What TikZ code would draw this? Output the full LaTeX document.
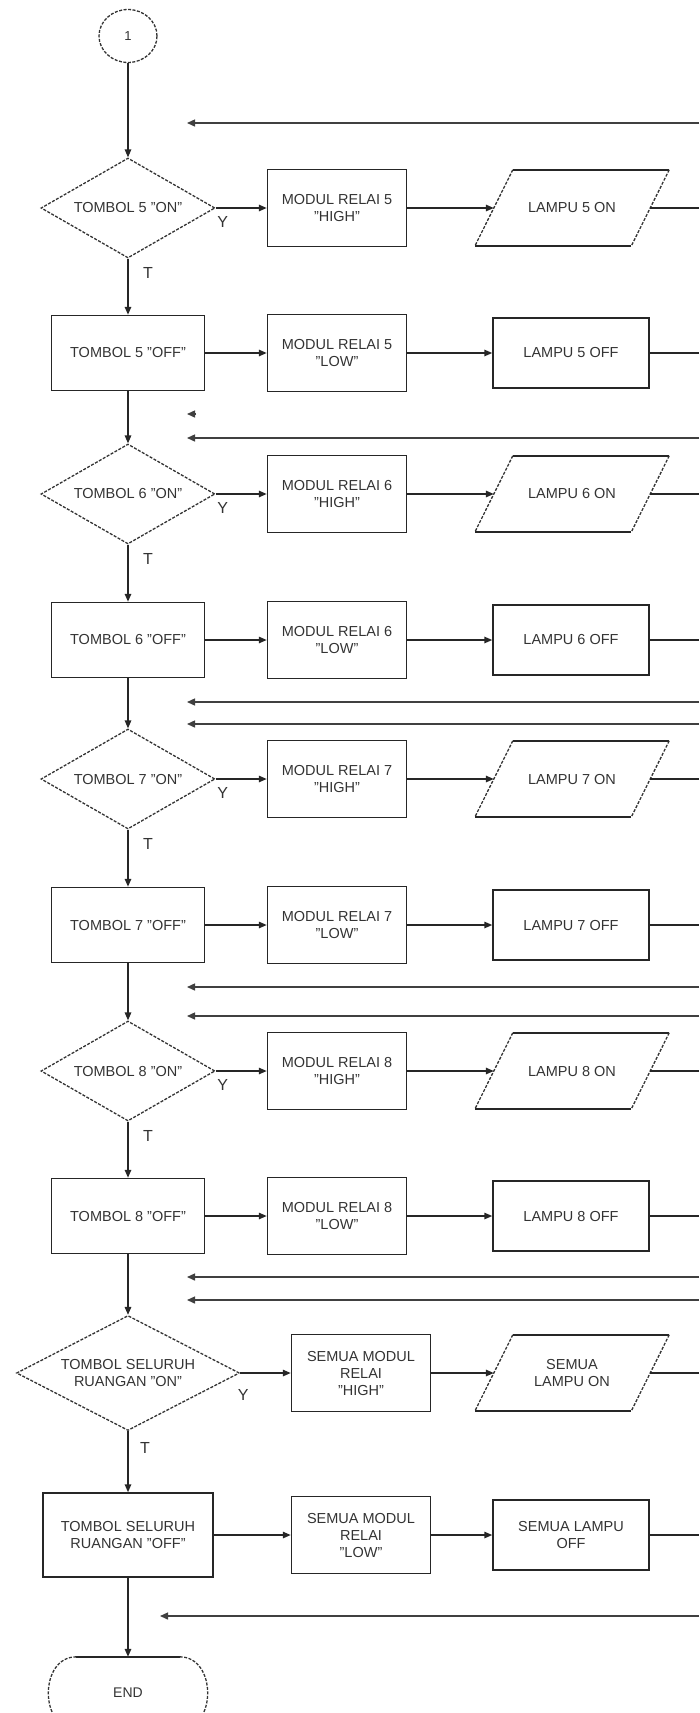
\documentclass[tikz,border=0pt]{standalone}
\usepackage{fontspec}
\setmainfont{Liberation Sans}
\usetikzlibrary{shapes.geometric,arrows.meta,calc}
\newcommand\paraout[1]{%
  \draw[ln] ($(#1.north west)+(19,0)$) -- ($(#1.north east)+(19,0)$);
  \draw[ln] ($(#1.south west)+(-19,0)$) -- ($(#1.south east)+(-19,0)$);
  \draw[diag] ($(#1.north east)+(19,0)$) -- ($(#1.south east)+(-19,0)$);
  \draw[diag] ($(#1.north west)+(19,0)$) -- ($(#1.south west)+(-19,0)$);}
\begin{document}
\begin{tikzpicture}[x=1pt,y=-1pt,
  every node/.style={font=\fontsize{14.5}{17}\selectfont, text=black!80, align=center, inner sep=0pt},
  ln/.style={draw=black!85, line width=1.5pt},
  diag/.style={draw=black!80, line width=1.3pt, dash pattern=on 3pt off 1.5pt},
  dec/.style={shape=diamond, diag, aspect=1.74, minimum width=174pt, minimum height=100pt},
  box/.style={rectangle, ln, minimum width=139pt, minimum height=77pt},
  offbox/.style={rectangle, ln, minimum width=153pt, minimum height=75pt},
  lampbox/.style={rectangle, ln, minimum width=156pt, minimum height=70pt},
  iobox/.style={rectangle, minimum width=156pt, minimum height=76pt},
  arr/.style={ln, -{Triangle[length=8pt,width=6.5pt]}},
  flow/.style={ln},
  fb/.style={draw=black!75, line width=1.4pt, -{Triangle[length=8pt,width=7pt]}},
  lbl/.style={font=\fontsize{16}{18}\selectfont}
]
\useasboundingbox (0,0) rectangle (699,1713);
\clip (0,0) rectangle (699,1713);

% start connector
\node[ellipse, diag, minimum width=58pt, minimum height=53pt, font=\fontsize{13}{15}\selectfont] (c1) at (128,36) {1};

% row 1
\node[dec] (d1) at (128,208) {TOMBOL 5 "ON"};
\node[box] (r1h) at (337,208) {MODUL RELAI 5\\"HIGH"};
\node[iobox] (p1) at (572,208) {LAMPU 5 ON};
\paraout{p1}
% row 2
\node[offbox] (b1) at (128,353) {TOMBOL 5 "OFF"};
\node[box] (r1l) at (337,353) {MODUL RELAI 5\\"LOW"};
\node[lampbox] (l1) at (571,353) {LAMPU 5 OFF};
% row 3
\node[dec] (d2) at (128,494) {TOMBOL 6 "ON"};
\node[box] (r2h) at (337,494) {MODUL RELAI 6\\"HIGH"};
\node[iobox] (p2) at (572,494) {LAMPU 6 ON};
\paraout{p2}
% row 4
\node[offbox] (b2) at (128,640) {TOMBOL 6 "OFF"};
\node[box] (r2l) at (337,640) {MODUL RELAI 6\\"LOW"};
\node[lampbox] (l2) at (571,640) {LAMPU 6 OFF};
% row 5
\node[dec] (d3) at (128,779) {TOMBOL 7 "ON"};
\node[box] (r3h) at (337,779) {MODUL RELAI 7\\"HIGH"};
\node[iobox] (p3) at (572,779) {LAMPU 7 ON};
\paraout{p3}
% row 6
\node[offbox] (b3) at (128,925) {TOMBOL 7 "OFF"};
\node[box] (r3l) at (337,925) {MODUL RELAI 7\\"LOW"};
\node[lampbox] (l3) at (571,925) {LAMPU 7 OFF};
% row 7
\node[dec] (d4) at (128,1071) {TOMBOL 8 "ON"};
\node[box] (r4h) at (337,1071) {MODUL RELAI 8\\"HIGH"};
\node[iobox] (p4) at (572,1071) {LAMPU 8 ON};
\paraout{p4}
% row 8
\node[offbox] (b4) at (128,1216) {TOMBOL 8 "OFF"};
\node[box] (r4l) at (337,1216) {MODUL RELAI 8\\"LOW"};
\node[lampbox] (l4) at (571,1216) {LAMPU 8 OFF};
% row 9
\node[dec, aspect=1.94, minimum width=223pt, minimum height=115pt] (d5) at (128,1373) {TOMBOL SELURUH\\RUANGAN "ON"};
\node[box] (r5h) at (361,1373) {SEMUA MODUL\\RELAI\\"HIGH"};
\node[iobox] (p5) at (572,1373) {SEMUA\\LAMPU ON};
\paraout{p5}
% row 10
\node[offbox, minimum width=170pt, minimum height=84pt] (b5) at (128,1535) {TOMBOL SELURUH\\RUANGAN "OFF"};
\node[box] (r5l) at (361,1535) {SEMUA MODUL\\RELAI\\"LOW"};
\node[lampbox] (l5) at (571,1535) {SEMUA LAMPU\\OFF};
% end terminator
\node[rectangle, minimum width=159pt, minimum height=72pt, font=\fontsize{14}{16}\selectfont] (endn) at (128,1693) {END};
\draw[ln] ($(endn.north west)+(28,0)$) -- ($(endn.north east)+(-28,0)$);
\draw[ln] ($(endn.south west)+(28,0)$) -- ($(endn.south east)+(-28,0)$);
\draw[diag] ($(endn.north east)+(-28,0)$) .. controls ($(endn.north east)+(9.3,0)$) and ($(endn.south east)+(9.3,0)$) .. ($(endn.south east)+(-28,0)$);
\draw[diag] ($(endn.north west)+(28,0)$) .. controls ($(endn.north west)+(-9.3,0)$) and ($(endn.south west)+(-9.3,0)$) .. ($(endn.south west)+(28,0)$);

% Y / T labels
\foreach \d in {d1,d2,d3,d4}{
  \node[lbl] at ($(\d.east)+(7,14)$) {Y};
  \node[lbl] at ($(\d.south)+(20,14)$) {T};
}
\node[lbl] at ($(d5.east)+(3,22)$) {Y};
\node[lbl] at ($(d5.south)+(17,17)$) {T};

% main vertical flow
\draw[arr] (c1) -- (d1);
\draw[arr] (d1) -- (b1);
\draw[arr] (b1) -- (d2);
\draw[arr] (d2) -- (b2);
\draw[arr] (b2) -- (d3);
\draw[arr] (d3) -- (b3);
\draw[arr] (b3) -- (d4);
\draw[arr] (d4) -- (b4);
\draw[arr] (b4) -- (d5);
\draw[arr] (d5) -- (b5);
\draw[arr] (b5) -- (endn);

% horizontal flows
\foreach \a/\b/\c/\y in {d1/r1h/p1/208, b1/r1l/l1/353, d2/r2h/p2/494, b2/r2l/l2/640, d3/r3h/p3/779, b3/r3l/l3/925, d4/r4h/p4/1071, b4/r4l/l4/1216, d5/r5h/p5/1373, b5/r5l/l5/1535}{
  \coordinate (edge-\c) at (699,\y);
  \draw[arr] (\a.east) -- (\b.west);
  \draw[arr] (\b.east) -- (\c.west);
  \draw[flow] (\c.east) -- (edge-\c);
}

% feedback lines from the right
\foreach \i/\y/\t in {1/123/187, 2/438/187, 3/702/187, 4/724/187, 5/987/187, 6/1016/187, 7/1277/187, 8/1300/187, 9/1616/160}{
  \coordinate (fbs\i) at (699,\y);
  \coordinate (fbt\i) at (\t,\y);
  \draw[fb] (fbs\i) -- (fbt\i);
}
\coordinate (orphs) at (196,414);
\coordinate (orpht) at (187,414);
\draw[fb] (orphs) -- (orpht);
\end{tikzpicture}
\end{document}
